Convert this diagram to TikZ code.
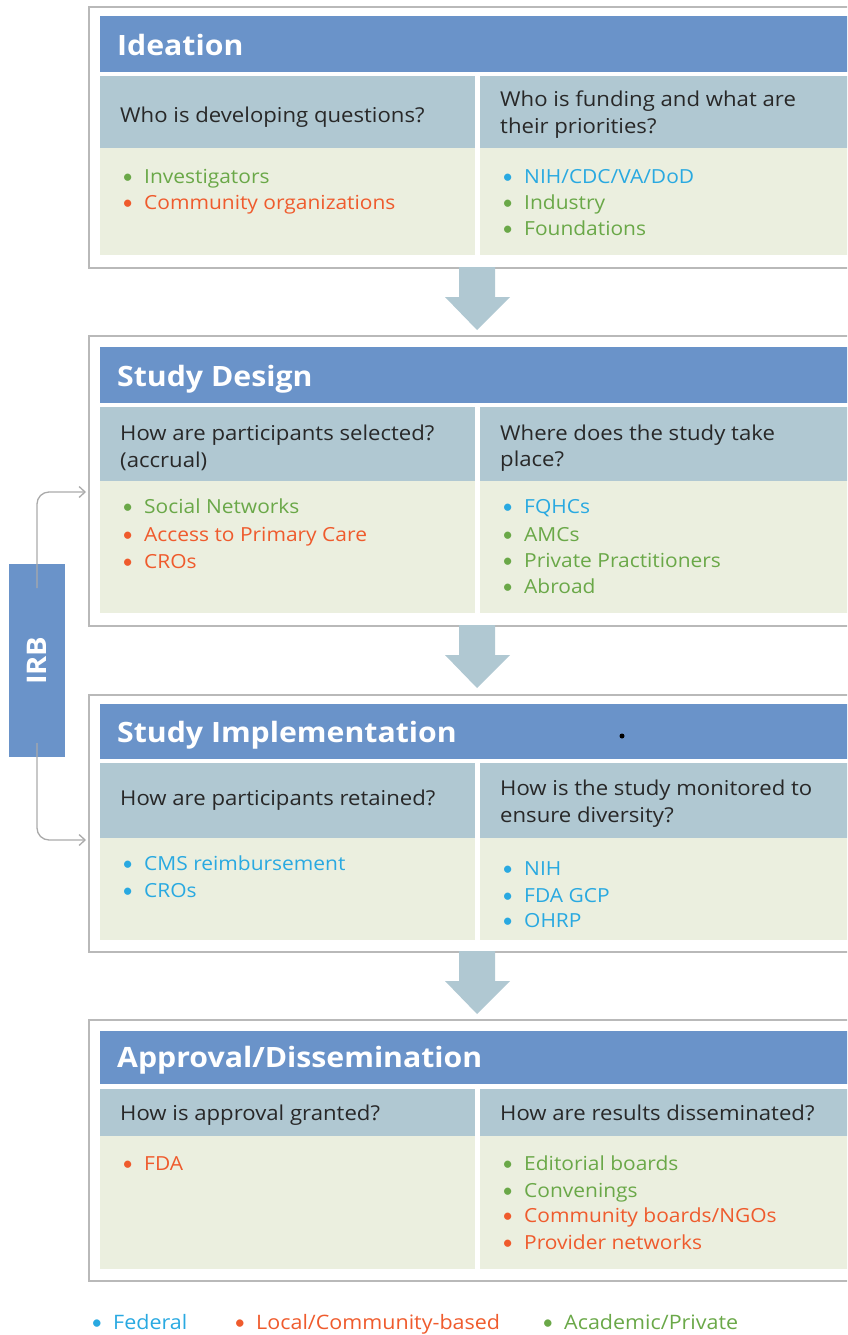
\documentclass[tikz,border=0pt]{standalone}
\usepackage{fontspec}
\setmainfont{Open Sans}[FakeStretch=1.08]
\newfontfamily\bulfont{Lato}
\usetikzlibrary{arrows.meta}
\definecolor{hblue}{RGB}{106,147,201}
\definecolor{subc}{RGB}{176,200,210}
\definecolor{contc}{RGB}{235,239,223}
\definecolor{framec}{RGB}{185,185,185}
\definecolor{tgreen}{RGB}{106,168,72}
\definecolor{torange}{RGB}{239,91,45}
\definecolor{tblue}{RGB}{41,169,225}
\definecolor{tdark}{RGB}{40,40,40}
\definecolor{linec}{RGB}{170,170,170}
\tikzset{
  frame/.style={draw=framec, line width=2pt, fill=white, anchor=north west, inner sep=0pt},
  cell/.style={anchor=north west, inner sep=0pt, draw=none},
  hdr/.style={cell, fill=hblue},
  sub/.style={cell, fill=subc},
  cont/.style={cell, fill=contc},
  title/.style={anchor=base west, inner sep=0pt, text=white, font=\fontsize{28}{34}\selectfont\bfseries},
  qtext/.style={anchor=base west, inner sep=0pt, text=tdark, font=\fontsize{20.5}{27}\selectfont},
  item/.style={anchor=base west, inner sep=0pt, font=\fontsize{19.4}{27}\selectfont},
  legend/.style={anchor=base west, inner sep=0pt, font=\fontsize{19.9}{27}\selectfont},
  blockarrow/.style={fill=subc, draw=none},
  irbline/.style={draw=linec, line width=1.3pt, rounded corners=12pt, -{Straight Barb[length=6pt,width=11pt]}},
}
\newcommand{\bitem}[2]{\textcolor{#1}{\makebox[22pt][l]{{\bulfont\textbullet}}#2}}
\begin{document}
\begin{tikzpicture}[x=1pt,y=-1pt]
\useasboundingbox (0,0) rectangle (847,1335);
\clip (0,0) rectangle (847,1335);
% ---------- Block 1: Ideation ----------
\node[frame, minimum width=800pt, minimum height=261pt] (f1) at (88,6) {};
\node[hdr, minimum width=780pt, minimum height=56pt] (h1) at (100,16) {};
\node[sub, minimum width=375pt, minimum height=72pt] (s1l) at (100,76) {};
\node[sub, minimum width=400pt, minimum height=72pt] (s1r) at (480,76) {};
\node[cont, minimum width=375pt, minimum height=107pt] (c1l) at (100,148) {};
\node[cont, minimum width=400pt, minimum height=107pt] (c1r) at (480,148) {};
\node[title] (t1) at (117,56) {Ideation};
\node[qtext] (q1l) at (120,123) {Who is developing questions?};
\node[qtext] (q1ra) at (500,107) {Who is funding and what are};
\node[qtext] (q1rb) at (500,133) {their priorities?};
\node[item] (i11) at (122,183) {\bitem{tgreen}{Investigators}};
\node[item] (i12) at (122,209) {\bitem{torange}{Community organizations}};
\node[item] (i13) at (502,183) {\bitem{tblue}{NIH/CDC/VA/DoD}};
\node[item] (i14) at (502,209) {\bitem{tgreen}{Industry}};
\node[item] (i15) at (502,235) {\bitem{tgreen}{Foundations}};
% ---------- Block 2: Study Design ----------
\node[frame, minimum width=800pt, minimum height=290pt] (f2) at (88,335) {};
\node[hdr, minimum width=780pt, minimum height=56pt] (h2) at (100,347) {};
\node[sub, minimum width=375pt, minimum height=74pt] (s2l) at (100,407) {};
\node[sub, minimum width=400pt, minimum height=74pt] (s2r) at (480,407) {};
\node[cont, minimum width=375pt, minimum height=132pt] (c2l) at (100,481) {};
\node[cont, minimum width=400pt, minimum height=132pt] (c2r) at (480,481) {};
\node[title] (t2) at (117,386) {Study Design};
\node[qtext] (q2la) at (120,440) {How are participants selected?};
\node[qtext] (q2lb) at (120,467) {(accrual)};
\node[qtext] (q2ra) at (500,440) {Where does the study take};
\node[qtext] (q2rb) at (500,466) {place?};
\node[item] (i21) at (122,513) {\bitem{tgreen}{Social Networks}};
\node[item] (i22) at (122,541) {\bitem{torange}{Access to Primary Care}};
\node[item] (i23) at (122,568) {\bitem{torange}{CROs}};
\node[item] (i24) at (502,513) {\bitem{tblue}{FQHCs}};
\node[item] (i25) at (502,541) {\bitem{tgreen}{AMCs}};
\node[item] (i26) at (502,567) {\bitem{tgreen}{Private Practitioners}};
\node[item] (i27) at (502,593) {\bitem{tgreen}{Abroad}};
% ---------- Block 3: Study Implementation ----------
\node[frame, minimum width=800pt, minimum height=257pt] (f3) at (88,694) {};
\node[hdr, minimum width=780pt, minimum height=55pt] (h3) at (100,704) {};
\node[sub, minimum width=375pt, minimum height=75pt] (s3l) at (100,763) {};
\node[sub, minimum width=400pt, minimum height=75pt] (s3r) at (480,763) {};
\node[cont, minimum width=375pt, minimum height=102pt] (c3l) at (100,838) {};
\node[cont, minimum width=400pt, minimum height=102pt] (c3r) at (480,838) {};
\node[title] (t3) at (117,742) {Study Implementation};
\node[circle, fill=black, inner sep=0pt, minimum size=5pt] (dot) at (622,736) {};
\node[qtext] (q3l) at (120,805) {How are participants retained?};
\node[qtext] (q3ra) at (500,795) {How is the study monitored to};
\node[qtext] (q3rb) at (500,822) {ensure diversity?};
\node[item] (i31) at (122,870) {\bitem{tblue}{CMS reimbursement}};
\node[item] (i32) at (122,897) {\bitem{tblue}{CROs}};
\node[item] (i33) at (502,875) {\bitem{tblue}{NIH}};
\node[item] (i34) at (502,902) {\bitem{tblue}{FDA GCP}};
\node[item] (i35) at (502,927) {\bitem{tblue}{OHRP}};
% ---------- Block 4: Approval/Dissemination ----------
\node[frame, minimum width=800pt, minimum height=261pt] (f4) at (88,1019) {};
\node[hdr, minimum width=780pt, minimum height=53pt] (h4) at (100,1031) {};
\node[sub, minimum width=375pt, minimum height=47pt] (s4l) at (100,1089) {};
\node[sub, minimum width=400pt, minimum height=47pt] (s4r) at (480,1089) {};
\node[cont, minimum width=375pt, minimum height=133pt] (c4l) at (100,1136) {};
\node[cont, minimum width=400pt, minimum height=133pt] (c4r) at (480,1136) {};
\node[title] (t4) at (117,1067) {Approval/Dissemination};
\node[qtext] (q4l) at (120,1120) {How is approval granted?};
\node[qtext] (q4r) at (500,1120) {How are results disseminated?};
\node[item] (i41) at (122,1170) {\bitem{torange}{FDA}};
\node[item] (i42) at (502,1170) {\bitem{tgreen}{Editorial boards}};
\node[item] (i43) at (502,1197) {\bitem{tgreen}{Convenings}};
\node[item] (i44) at (502,1222) {\bitem{torange}{Community boards/NGOs}};
\node[item] (i45) at (502,1249) {\bitem{torange}{Provider networks}};
% ---------- Block arrows ----------
\foreach \ya in {267,625,951}{
  \fill[blockarrow] (459,\ya) -- (495,\ya) -- (495,\ya+30) -- (510,\ya+30) -- (477,\ya+63) -- (445,\ya+30) -- (459,\ya+30) -- cycle;
}
% ---------- IRB ----------
\node[hdr, minimum width=56pt, minimum height=193pt] (irb) at (9,564) {};
\node[rotate=90, text=white, font=\fontsize{27}{34}\selectfont\bfseries, inner sep=0pt] (irbt) at (irb.center) {IRB};
\coordinate (irbA) at (37,588);
\coordinate (irbB) at (37,743);
\coordinate (tgtA) at (86,492);
\coordinate (tgtB) at (86,840);
\draw[irbline] (irbA) |- (tgtA);
\draw[irbline] (irbB) |- (tgtB);
% ---------- Legend ----------
\node[legend] (l1) at (91,1329) {\bitem{tblue}{Federal}};
\node[legend] (l2) at (234,1329) {\bitem{torange}{Local/Community-based}};
\node[legend] (l3) at (542,1329) {\bitem{tgreen}{Academic/Private}};
\end{tikzpicture}
\end{document}
